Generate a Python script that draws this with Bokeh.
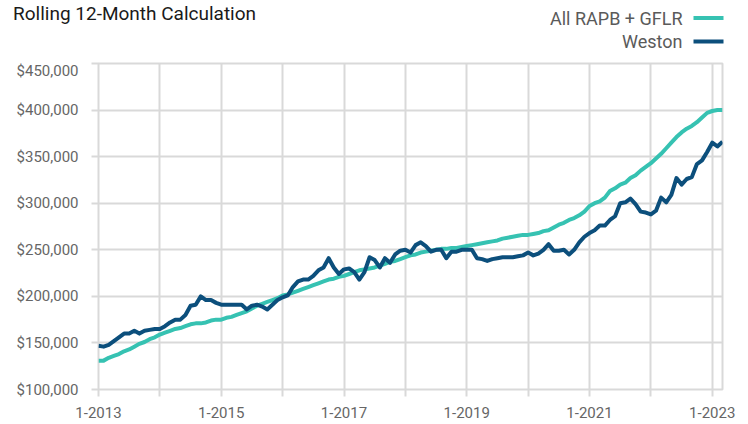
from bokeh.plotting import figure
from bokeh.layouts import column, row
from bokeh.models import (ColumnDataSource, Range1d, FixedTicker,
                          NumeralTickFormatter, Label, BoxAnnotation)
from bokeh.embed import file_html
from bokeh.resources import INLINE

# ---- data (monthly, Jan 2013 .. Mar 2023), values in thousands of dollars ----
rapb_gflr_k = [
    131, 131, 134, 136, 138, 141, 143, 146, 149, 151, 154, 156,   # 2013
    159, 161, 163, 165, 166, 168, 170, 171, 171, 172, 174, 175,   # 2014
    175, 177, 178, 180, 182, 184, 187, 190, 192, 194, 196, 198,   # 2015
    201, 202, 204, 206, 208, 210, 212, 214, 216, 218, 219, 221,   # 2016
    222, 224, 226, 228, 229, 230, 231, 233, 235, 237, 238, 240,   # 2017
    242, 244, 245, 247, 248, 249, 250, 251, 251, 252, 252, 253,   # 2018
    254, 255, 256, 257, 258, 259, 260, 262, 263, 264, 265, 266,   # 2019
    266, 267, 268, 270, 271, 274, 277, 279, 282, 284, 287, 291,   # 2020
    297, 300, 302, 306, 313, 316, 320, 322, 327, 330, 335, 339,   # 2021
    343, 348, 353, 359, 365, 371, 376, 380, 383, 387, 392, 397,   # 2022
    399, 400, 400,                                                # 2023
]
weston_k = [
    147, 146, 148, 152, 156, 160, 160, 163, 160, 163, 164, 165,   # 2013
    165, 168, 172, 175, 175, 180, 190, 191, 200, 196, 196, 193,   # 2014
    191, 191, 191, 191, 191, 186, 190, 191, 189, 186, 191, 196,   # 2015
    199, 201, 210, 216, 218, 218, 222, 228, 231, 241, 231, 224,   # 2016
    229, 230, 226, 218, 226, 242, 239, 231, 241, 236, 245, 249,   # 2017
    250, 247, 255, 258, 254, 248, 250, 250, 241, 248, 248, 250,   # 2018
    250, 250, 241, 240, 238, 240, 241, 242, 242, 242, 243, 244,   # 2019
    247, 244, 246, 250, 256, 249, 249, 250, 245, 250, 258, 264,   # 2020
    268, 271, 276, 276, 282, 286, 300, 301, 305, 299, 291, 290,   # 2021
    288, 292, 306, 301, 309, 327, 320, 326, 328, 342, 346, 355,   # 2022
    365, 361, 366,                                                # 2023
]
month_index = list(range(len(rapb_gflr_k)))

x_tick_positions = [0, 12, 24, 36, 48, 60, 72, 84, 96, 108, 120]
x_tick_labels = ["1-2013", "", "1-2015", "", "1-2017", "", "1-2019", "",
                 "1-2021", "", "1-2023"]
y_ticks = [100000, 150000, 200000, 250000, 300000, 350000, 400000, 450000]

series_names = ["All RAPB + GFLR", "Weston"]
series_colors = ["#36c2b2", "#0c4f7c"]
title_text = "Rolling 12-Month Calculation"

FONT = "Roboto"
GRID = "#d9d9d9"

# ---- header (title + legend), coordinates = pixels from top-left ----
HEAD_H = 61
head = figure(width=748, height=HEAD_H, x_range=Range1d(0, 748),
              y_range=Range1d(HEAD_H, 0), output_backend="svg",
              toolbar_location=None, x_axis_location=None,
              y_axis_location=None, min_border=0)
head.outline_line_color = None
head.xgrid.visible = False
head.ygrid.visible = False
head_aligned = "frame_align" in head.properties()
if head_aligned:
    head.frame_align = False

head.add_layout(Label(x=12.5, y=12.5, text=title_text, text_font=FONT,
                      text_font_size="19px", text_color="#1a1a1a",
                      text_align="left", text_baseline="middle"))

legend_mid = [17.6, 40.9]
for name, col, ym in zip(series_names, series_colors, legend_mid):
    head.add_layout(Label(x=682, y=ym, text=name, text_font=FONT,
                          text_font_size="18px", text_color="#5a5a5a",
                          text_align="right", text_baseline="middle"))
    head.add_layout(BoxAnnotation(left=693, right=723, top=ym - 2,
                                  bottom=ym + 2, fill_color=col,
                                  fill_alpha=1.0, line_color=None))

# ---- main chart ----
src = ColumnDataSource(data=dict(
    m=month_index,
    rapb=[v * 1000 for v in rapb_gflr_k],
    weston=[v * 1000 for v in weston_k],
))

p = figure(frame_width=624, frame_height=326,
           x_range=Range1d(0, 122), y_range=Range1d(100000, 450000),
           output_backend="svg", toolbar_location=None,
           min_border_left=98, min_border_right=26,
           min_border_top=2, min_border_bottom=35)
if "frame_align" in p.properties():
    p.frame_align = False
p.outline_line_color = GRID
p.outline_line_width = 2

p.xgrid.ticker = FixedTicker(ticks=x_tick_positions)
p.ygrid.ticker = FixedTicker(ticks=y_ticks)
for g in (p.xgrid, p.ygrid):
    g.grid_line_color = GRID
    g.grid_line_width = 2

p.xaxis.ticker = FixedTicker(ticks=x_tick_positions)
p.xaxis.major_label_overrides = {pos: lab for pos, lab in zip(x_tick_positions, x_tick_labels)}
p.yaxis.ticker = FixedTicker(ticks=y_ticks)
p.yaxis.formatter = NumeralTickFormatter(format="$0,0")
for ax in (p.xaxis, p.yaxis):
    ax.axis_line_color = None
    ax.major_tick_line_color = GRID
    ax.major_tick_line_width = 2
    ax.major_tick_out = 7
    ax.major_tick_in = 0
    ax.minor_tick_line_color = None
    ax.major_label_text_font = FONT
    ax.major_label_text_font_size = "15px"
    ax.major_label_text_color = "#666666"
p.xaxis.major_label_standoff = 10
p.yaxis.major_label_standoff = 13

p.line("m", "rapb", source=src, line_color=series_colors[0], line_width=4,
       line_join="round")
p.line("m", "weston", source=src, line_color=series_colors[1], line_width=4,
       line_join="round")

top = head if head_aligned else row(head)
layout = column(top, p, spacing=0)
open("out.html", "w").write(file_html(layout, INLINE))
